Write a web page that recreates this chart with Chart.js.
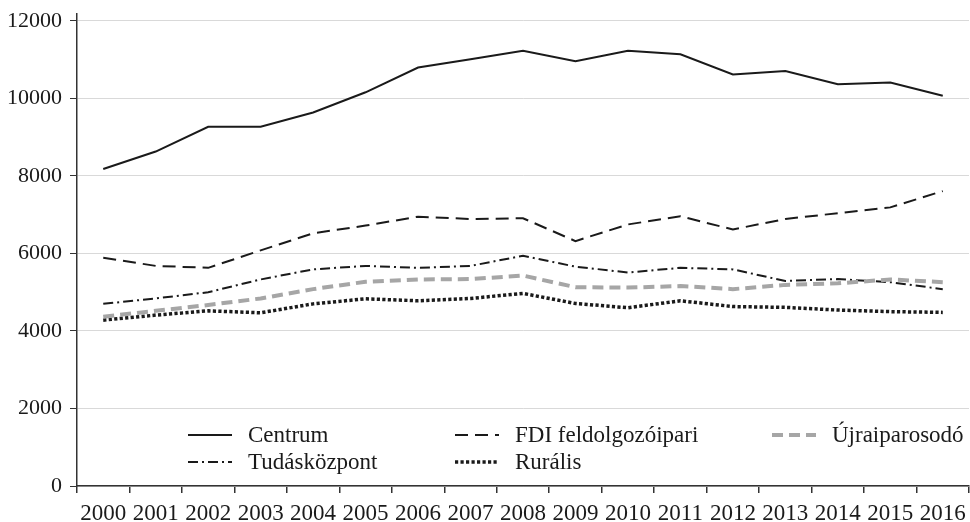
<!DOCTYPE html>
<html>
<head>
<meta charset="utf-8">
<script src="https://cdn.jsdelivr.net/npm/chart.js"></script>
<style>
  html, body { margin: 0; padding: 0; background: #fff; }
</style>
</head>
<body>
<canvas id="grafikon" width="970" height="522"></canvas>
<script>
// adatok
const evek = ["2000", "2001", "2002", "2003", "2004", "2005", "2006", "2007", "2008",
  "2009", "2010", "2011", "2012", "2013", "2014", "2015", "2016"];
const centrum = [8180, 8630, 9270, 9270, 9640, 10160, 10800, 11010, 11230, 10960, 11230, 11140, 10620, 10710, 10370, 10410, 10070];
const fdi = [5890, 5680, 5630, 6080, 6520, 6720, 6950, 6890, 6910, 6320, 6750, 6960, 6620, 6890, 7040, 7190, 7610];
const ujraiparosodo = [4370, 4520, 4670, 4840, 5080, 5270, 5330, 5340, 5430, 5130, 5120, 5160, 5080, 5190, 5230, 5330, 5260];
const tudaskozpont = [4700, 4840, 5000, 5330, 5590, 5680, 5630, 5680, 5940, 5660, 5510, 5630, 5590, 5290, 5340, 5260, 5080];
const muralis = [4280, 4410, 4520, 4470, 4700, 4830, 4780, 4840, 4970, 4710, 4600, 4780, 4630, 4610, 4540, 4500, 4480];
const yTickek = [0, 2000, 4000, 6000, 8000, 10000, 12000];

const betu = "'Liberation Serif', 'Times New Roman', serif";

// jelmagyarázat a rajzterületen belül
const jelmagyarazat = {
  id: "jelmagyarazat",
  afterDatasetsDraw(chart) {
    const ctx = chart.ctx;
    const helyek = [[188, 435], [455, 435], [772, 435], [188, 462], [455, 462]];
    ctx.save();
    ctx.font = "23px " + betu;
    ctx.textBaseline = "middle";
    ctx.fillStyle = "#1a1a1a";
    chart.data.datasets.forEach((ds, i) => {
      const [x, y] = helyek[i];
      ctx.beginPath();
      ctx.setLineDash(ds.borderDash || []);
      ctx.lineWidth = ds.borderWidth;
      ctx.strokeStyle = ds.borderColor;
      ctx.moveTo(x, y);
      ctx.lineTo(x + 44, y);
      ctx.stroke();
      ctx.setLineDash([]);
      ctx.fillText(ds.label, x + 60, y + 1);
    });
    ctx.restore();
  }
};

const ctx = document.getElementById("grafikon").getContext("2d");

new Chart(ctx, {
  type: "line",
  data: {
    labels: evek,
    datasets: [
      { label: "Centrum", data: centrum, borderColor: "#1a1a1a", borderWidth: 2, borderDash: [] },
      { label: "FDI feldolgozóipari", data: fdi, borderColor: "#1a1a1a", borderWidth: 2, borderDash: [13, 7] },
      { label: "Újraiparosodó", data: ujraiparosodo, borderColor: "#a6a6a6", borderWidth: 4, borderDash: [11, 6] },
      { label: "Tudásközpont", data: tudaskozpont, borderColor: "#1a1a1a", borderWidth: 2, borderDash: [10, 4, 2, 4] },
      { label: "Rurális", data: muralis, borderColor: "#1a1a1a", borderWidth: 3.5, borderDash: [3.2, 2.3] }
    ]
  },
  options: {
    responsive: false,
    animation: false,
    layout: { padding: { top: 14, right: 1 } },
    elements: {
      point: { radius: 0 },
      line: { tension: 0, borderCapStyle: "butt" }
    },
    plugins: {
      legend: { display: false },
      tooltip: { enabled: false }
    },
    scales: {
      x: {
        offset: true,
        grid: { offset: true, drawOnChartArea: false, tickLength: 7, tickColor: "#333", lineWidth: 1.5 },
        border: { color: "#333", width: 1.5 },
        ticks: { color: "#1a1a1a", font: { family: betu, size: 23 }, padding: 7, maxRotation: 0, autoSkip: false },
        afterFit(scale) {
          scale.height = 36;
          scale.paddingLeft = 0;
          scale.paddingRight = 0;
        }
      },
      y: {
        min: 0,
        max: 12180,
        grid: { color: "#d9d9d9", lineWidth: 1, tickLength: 7, tickColor: "#333" },
        border: { color: "#333", width: 1.5 },
        ticks: {
          color: "#1a1a1a",
          padding: 8,
          font: { family: betu, size: 22 },
          callback: (v) => String(v)
        },
        afterBuildTicks(scale) {
          scale.ticks = yTickek.map(v => ({ value: v }));
        },
        afterFit(scale) {
          scale.width = 77;
          scale.paddingTop = 0;
          scale.paddingBottom = 0;
        }
      }
    }
  },
  plugins: [jelmagyarazat]
});
</script>
</body>
</html>
